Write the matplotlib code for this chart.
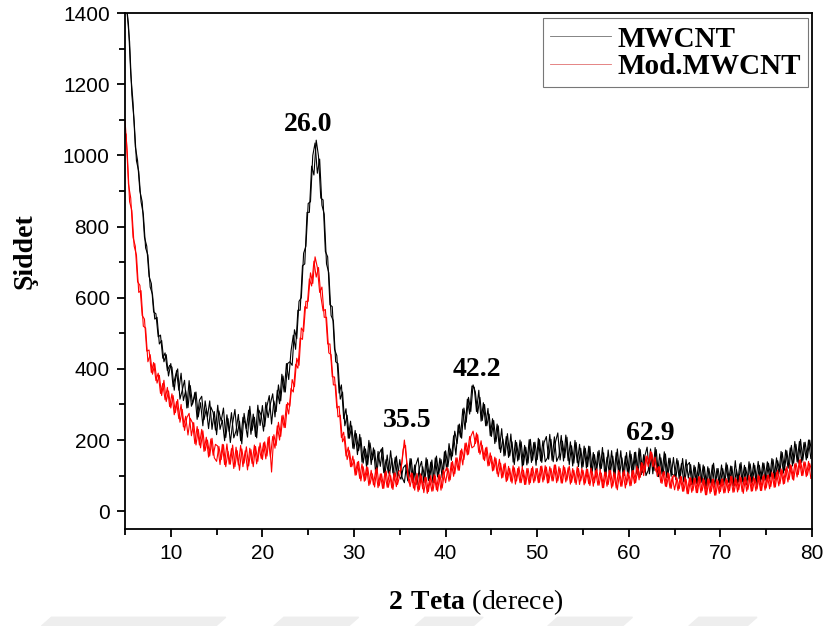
import numpy as np
import matplotlib
matplotlib.use('Agg')
import matplotlib.pyplot as plt
from matplotlib.ticker import MultipleLocator
from matplotlib.lines import Line2D
from matplotlib.patches import Polygon

plt.rcParams['mathtext.fontset'] = 'custom'
plt.rcParams['mathtext.rm'] = 'Liberation Serif'
plt.rcParams['mathtext.bf'] = 'Liberation Serif:bold'

# 2 theta grid, 0.25 degree steps from 5 to 80, plus the in-between readings
two_theta = np.linspace(5, 80, 301)
two_theta_half = two_theta[:-1] + 0.125

# MWCNT intensities on the 0.25 grid (one row = 5 degrees)
mwcnt = [
    1480, 1395, 1320, 1170, 1095, 985, 955, 870, 835, 740, 720, 630, 610, 540, 545, 470, 480, 420, 440, 380,
    415, 350, 380, 400, 315, 340, 368, 290, 367, 295, 313, 335, 265, 305, 240, 310, 265, 310, 230, 280,
    215, 282, 253, 290, 207, 260, 193, 247, 286, 212, 253, 189, 275, 232, 284, 216, 273, 210, 298, 241,
    297, 238, 295, 325, 245, 310, 280, 355, 310, 380, 335, 415, 420, 410, 510, 485, 590, 600, 725, 745,
    865, 870, 1000, 1035, 950, 990, 860, 835, 695, 670, 550, 535, 420, 415, 315, 335, 240, 270, 205, 240,
    175, 218, 170, 207, 135, 175, 131, 192, 145, 172, 109, 162, 175, 108, 145, 107, 170, 108, 151, 94,
    145, 95, 80, 135, 95, 147, 85, 130, 150, 80, 125, 90, 145, 87, 144, 81, 155, 103, 145, 108,
    170, 125, 175, 155, 225, 190, 245, 205, 290, 250, 320, 280, 355, 335, 275, 320, 255, 300, 240, 273,
    210, 255, 195, 240, 165, 203, 157, 218, 155, 195, 131, 193, 145, 195, 130, 180, 135, 202, 143, 194,
    145, 201, 137, 193, 210, 146, 202, 139, 195, 220, 144, 197, 150, 208, 131, 184, 135, 193, 125, 177,
    125, 177, 125, 182, 110, 159, 113, 171, 120, 164, 98, 172, 110, 155, 100, 175, 105, 150, 100, 165,
    105, 160, 110, 166, 102, 173, 109, 155, 180, 105, 160, 114, 173, 97, 150, 103, 161, 95, 149, 103,
    100, 148, 91, 134, 82, 145, 93, 131, 75, 124, 78, 132, 81, 125, 70, 120, 75, 135, 85, 120,
    75, 120, 85, 130, 80, 126, 71, 117, 82, 137, 77, 123, 88, 133, 83, 129, 74, 129, 90, 135,
    88, 135, 97, 145, 93, 142, 111, 165, 115, 170, 120, 185, 135, 188, 135, 202, 143, 194, 150, 200,
    160,
]

# MWCNT intensities at the in-between points (5.125 ... 79.875)
mwcnt_half = [
    1430, 1370, 1230, 1150, 1025, 985, 900, 870, 770, 745, 660, 640, 560, 555, 490, 495, 430, 445, 395, 410,
    405, 340, 395, 340, 388, 311, 339, 291, 353, 301, 334, 258, 312, 323, 257, 288, 232, 293, 277, 228,
    298, 230, 256, 198, 271, 224, 277, 206, 226, 272, 198, 264, 246, 208, 295, 227, 264, 206, 284, 269,
    225, 306, 263, 302, 330, 265, 340, 302, 385, 335, 415, 370, 450, 495, 455, 565, 565, 690, 695, 840,
    840, 970, 945, 1043, 998, 880, 875, 730, 715, 580, 575, 455, 437, 332, 355, 260, 288, 205, 253, 177,
    227, 159, 216, 138, 182, 123, 199, 131, 178, 105, 168, 126, 179, 101, 158, 101, 149, 87, 155, 102,
    90, 122, 130, 85, 148, 81, 130, 75, 120, 140, 80, 150, 86, 138, 80, 150, 96, 149, 94, 167,
    115, 190, 143, 212, 158, 242, 208, 287, 230, 315, 273, 352, 348, 280, 340, 253, 305, 240, 289, 212,
    260, 190, 245, 175, 232, 155, 210, 151, 217, 138, 199, 141, 200, 125, 185, 130, 201, 137, 193, 129,
    205, 141, 198, 139, 150, 216, 143, 209, 140, 155, 213, 141, 214, 142, 195, 127, 199, 136, 188, 121,
    183, 121, 183, 111, 165, 103, 167, 115, 179, 103, 152, 106, 170, 100, 165, 110, 170, 100, 155, 105,
    170, 100, 165, 106, 177, 103, 159, 100, 115, 175, 105, 179, 98, 161, 104, 167, 95, 149, 98, 151,
    89, 142, 95, 148, 86, 129, 137, 75, 129, 78, 137, 81, 130, 65, 125, 80, 130, 70, 120, 75,
    130, 75, 136, 81, 127, 72, 142, 78, 133, 83, 129, 74, 139, 79, 135, 85, 140, 81, 136, 87,
    139, 91, 148, 91, 150, 104, 168, 107, 172, 122, 178, 127, 196, 139, 196, 137, 193, 144, 200, 148,
]

# Mod.MWCNT intensities on the 0.25 grid
mod_mwcnt = [
    1100, 1005, 870, 845, 745, 720, 615, 620, 520, 515, 420, 440, 385, 415, 360, 382, 325, 368, 308, 338,
    290, 325, 277, 314, 250, 286, 227, 263, 275, 212, 249, 186, 230, 178, 226, 170, 200, 155, 205, 150,
    140, 182, 145, 187, 125, 168, 132, 186, 125, 170, 115, 175, 135, 181, 127, 173, 125, 182, 140, 192,
    145, 195, 155, 210, 110, 215, 185, 250, 210, 270, 235, 305, 295, 370, 350, 430, 410, 515, 505, 590,
    590, 670, 640, 715, 685, 615, 630, 545, 545, 445, 440, 355, 355, 265, 270, 195, 210, 145, 170, 125,
    145, 102, 140, 85, 125, 87, 123, 76, 105, 68, 122, 71, 105, 64, 113, 67, 100, 61, 108, 75,
    100, 140, 200, 140, 80, 108, 65, 97, 55, 105, 63, 96, 50, 90, 56, 103, 60, 102, 59, 116,
    80, 120, 88, 140, 105, 150, 115, 175, 145, 192, 160, 210, 225, 190, 215, 160, 185, 142, 180, 128,
    155, 115, 148, 97, 135, 95, 135, 87, 120, 79, 122, 85, 125, 80, 115, 75, 120, 80, 125, 85,
    120, 81, 127, 88, 124, 80, 120, 85, 130, 85, 120, 79, 123, 87, 127, 81, 115, 75, 120, 85,
    115, 79, 118, 72, 111, 80, 119, 73, 107, 66, 110, 75, 115, 70, 105, 60, 110, 70, 115, 75,
    105, 72, 115, 80, 120, 95, 135, 110, 155, 135, 165, 130, 110, 125, 80, 110, 70, 108, 65, 97,
    60, 94, 63, 97, 56, 90, 49, 94, 58, 93, 52, 97, 57, 87, 46, 91, 55, 90, 45, 85,
    55, 91, 52, 87, 58, 98, 54, 89, 60, 95, 50, 96, 61, 96, 57, 92, 62, 98, 58, 103,
    65, 102, 69, 106, 68, 115, 77, 115, 78, 125, 89, 128, 87, 135, 103, 145, 100, 138, 101, 134,
    110,
]

# Mod.MWCNT intensities at the in-between points
mod_mwcnt_half = [
    1060, 920, 880, 770, 745, 645, 635, 550, 540, 450, 453, 390, 418, 367, 388, 331, 359, 313, 348, 294,
    330, 271, 308, 260, 300, 237, 267, 214, 261, 248, 190, 238, 186, 230, 168, 208, 152, 203, 157, 188,
    183, 131, 188, 131, 189, 132, 176, 120, 180, 130, 185, 125, 170, 116, 177, 134, 186, 133, 181, 148,
    192, 147, 207, 152, 210, 177, 240, 200, 268, 235, 300, 273, 345, 335, 413, 402, 487, 483, 575, 570,
    653, 633, 703, 658, 685, 605, 563, 567, 470, 470, 378, 377, 290, 295, 207, 222, 155, 180, 125, 155,
    101, 138, 92, 133, 84, 125, 72, 115, 74, 117, 66, 105, 64, 108, 67, 111, 65, 107, 69, 112,
    115, 175, 185, 100, 69, 106, 59, 106, 60, 99, 52, 95, 55, 100, 57, 99, 56, 103, 65, 108,
    123, 84, 137, 98, 150, 115, 170, 130, 191, 158, 210, 178, 183, 220, 165, 198, 146, 178, 127, 164,
    113, 152, 105, 146, 93, 132, 83, 126, 84, 128, 76, 120, 80, 125, 75, 120, 75, 120, 80, 120,
    80, 126, 82, 128, 79, 125, 85, 130, 80, 125, 79, 128, 82, 122, 76, 120, 80, 125, 75, 120,
    74, 118, 77, 121, 70, 114, 73, 117, 66, 110, 70, 115, 65, 110, 65, 115, 70, 110, 65, 110,
    71, 114, 78, 127, 88, 137, 100, 155, 125, 168, 125, 152, 98, 125, 78, 112, 69, 106, 64, 101,
    95, 58, 98, 56, 96, 49, 94, 53, 93, 52, 97, 52, 92, 46, 91, 50, 90, 45, 90, 50,
    90, 51, 92, 52, 98, 53, 94, 54, 100, 55, 95, 56, 101, 56, 97, 57, 102, 58, 98, 59,
    101, 63, 110, 67, 109, 71, 119, 76, 119, 82, 131, 90, 133, 96, 144, 100, 139, 97, 140, 92,
]

# peak labels: text, x, y
peak_labels = ['26.0', '35.5', '42.2', '62.9']
peak_x = [25.0, 35.8, 43.4, 62.4]
peak_y = [1088, 254, 398, 218]

series_names = ['MWCNT', 'Mod.MWCNT']

fig = plt.figure(figsize=(8.3, 6.26), dpi=100)
ax = fig.add_axes([0.1506, 0.155, 0.8277, 0.824])

# each pattern is drawn as two overlapping passes (grid and in-between readings)
ax.plot(two_theta, mwcnt, color='black', lw=0.8)
ax.plot(two_theta_half, mwcnt_half, color='black', lw=0.8)
ax.plot(two_theta, mod_mwcnt, color='red', lw=0.8)
ax.plot(two_theta_half, mod_mwcnt_half, color='red', lw=0.8)

ax.set_xlim(5, 80)
ax.set_ylim(-50, 1400)
ax.xaxis.set_major_locator(MultipleLocator(10))
ax.xaxis.set_minor_locator(MultipleLocator(5))
ax.yaxis.set_major_locator(MultipleLocator(200))
ax.yaxis.set_minor_locator(MultipleLocator(100))
ax.tick_params(which='major', direction='out', length=6, width=1.3, labelsize=15, pad=5)
ax.tick_params(which='minor', direction='out', length=4, width=1.3)
for lab in ax.get_xticklabels() + ax.get_yticklabels():
    lab.set_family('Liberation Sans')
for sp in ax.spines.values():
    sp.set_linewidth(1.3)

ax.set_xlabel(r'$\mathbf{2\ Teta}$ (derece)', family='Liberation Serif', fontsize=20)
ax.xaxis.set_label_coords(0.511, -0.113)
ax.set_ylabel('Şiddet', family='Liberation Serif', fontsize=20, fontweight='bold')
ax.yaxis.set_label_coords(-0.128, 0.539)

for txt, px, py in zip(peak_labels, peak_x, peak_y):
    ax.text(px, py, txt, family='Liberation Serif', fontsize=20, fontweight='bold',
            ha='center', va='center')

handles = [Line2D([], [], color='#707070', lw=0.6), Line2D([], [], color='#e07070', lw=0.6)]
leg = ax.legend(handles, series_names, loc='upper right', bbox_to_anchor=(0.994, 0.990),
                prop={'family': 'Liberation Serif', 'weight': 'bold', 'size': 21},
                frameon=True, fancybox=False, edgecolor='#555555', handlelength=2.1,
                handletextpad=0.2, borderpad=0.25, labelspacing=0.02, borderaxespad=0)
leg.get_frame().set_linewidth(0.8)

# faint stripes along the bottom edge
for x0, x1 in [(0.05, 0.26), (0.33, 0.42), (0.50, 0.57), (0.66, 0.75), (0.83, 0.90)]:
    fig.patches.append(Polygon([[x0, 0], [x0 + 0.012, 0.014], [x1 + 0.012, 0.014], [x1, 0]],
                               closed=True, transform=fig.transFigure, color='#eeeeee', zorder=-10))

fig.savefig('out.png', dpi=100)
